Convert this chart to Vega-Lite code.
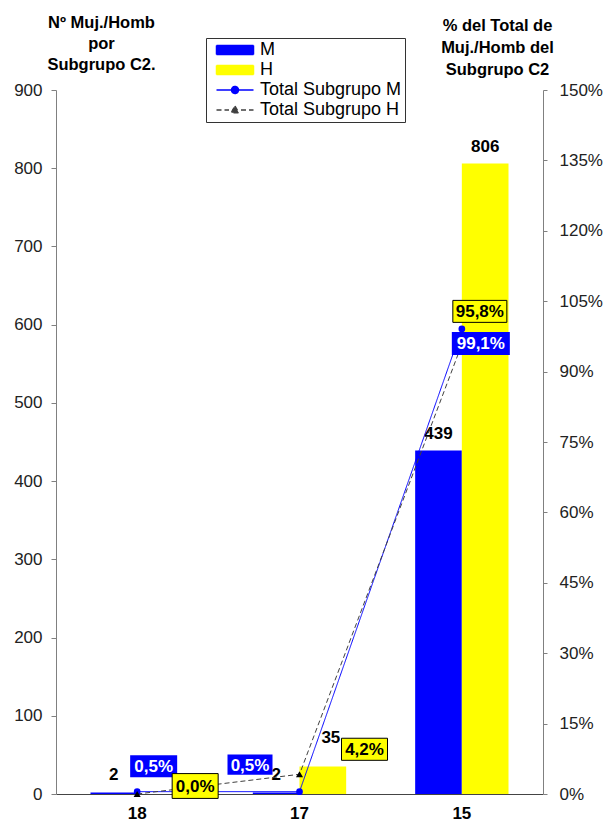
{
  "$schema": "https://vega.github.io/schema/vega-lite/v6.json",
  "autosize": {"type": "none"},
  "width": 487,
  "height": 704,
  "padding": {"left": 56, "top": 90, "right": 65, "bottom": 30},
  "background": "white",
  "datasets": {
    "bars": [
      {"cat": "18", "serie": "M", "n": 2},
      {"cat": "18", "serie": "H", "n": 0},
      {"cat": "17", "serie": "M", "n": 2},
      {"cat": "17", "serie": "H", "n": 35},
      {"cat": "15", "serie": "M", "n": 439},
      {"cat": "15", "serie": "H", "n": 806}
    ],
    "pct": [
      {"cat": "18", "serie": "Total Subgrupo M", "pct": 0.005},
      {"cat": "17", "serie": "Total Subgrupo M", "pct": 0.005},
      {"cat": "15", "serie": "Total Subgrupo M", "pct": 0.991},
      {"cat": "18", "serie": "Total Subgrupo H", "pct": 0.0},
      {"cat": "17", "serie": "Total Subgrupo H", "pct": 0.042},
      {"cat": "15", "serie": "Total Subgrupo H", "pct": 0.958}
    ]
  },
  "layer": [
    {
      "data": {"name": "bars"},
      "encoding": {
        "x": {"field": "cat", "type": "nominal", "sort": ["18", "17", "15"],
          "scale": {"paddingInner": 0.425, "paddingOuter": 0.2125},
          "axis": {"title": null, "labelAngle": 0, "labelFontWeight": "bold", "labelFontSize": 17, "labelColor": "black", "ticks": false, "domainColor": "#444", "labelPadding": 11}},
        "xOffset": {"field": "serie", "type": "nominal", "sort": ["M", "H"], "scale": {"paddingInner": 0, "paddingOuter": 0}},
        "y": {"field": "n", "type": "quantitative", "scale": {"domain": [0, 900]},
          "axis": {"values": [0, 100, 200, 300, 400, 500, 600, 700, 800, 900], "grid": false, "tickSize": 5, "tickColor": "#808080", "domainColor": "#808080", "labelFontSize": 17, "labelColor": "#222", "labelPadding": 9,
            "title": ["Nº Muj./Homb", "por", "Subgrupo C2."], "titleAngle": 0, "titleAlign": "center", "titleBaseline": "top", "titleX": 45, "titleY": -76, "titleFontSize": 16.5, "titleFontWeight": "bold", "titleColor": "black", "titleLineHeight": 21}}
      },
      "layer": [
        {"mark": {"type": "bar"},
         "encoding": {"color": {"field": "serie", "type": "nominal",
           "scale": {"domain": ["M", "H", "Total Subgrupo M", "Total Subgrupo H"], "range": ["#0000FF", "#FFFF00", "#0000FF", "#404040"]},
           "legend": {"title": null, "orient": "none", "legendX": 150, "legendY": -52}}}},
        {"transform": [{"filter": "datum.n > 0 && datum.n != 35"}],
         "mark": {"type": "text", "dy": -12, "fontSize": 17, "fontWeight": "bold", "color": "black", "baseline": "alphabetic"},
         "encoding": {"text": {"field": "n", "type": "quantitative"}}},
        {"transform": [{"filter": "datum.n == 35"}],
         "mark": {"type": "text", "dy": -24, "dx": 8, "fontSize": 17, "fontWeight": "bold", "color": "black", "baseline": "alphabetic"},
         "encoding": {"text": {"field": "n", "type": "quantitative"}}}
      ]
    },
    {
      "data": {"name": "pct"},
      "encoding": {
        "x": {"field": "cat", "type": "nominal", "sort": ["18", "17", "15"],
          "axis": {"title": null, "labelAngle": 0, "labelFontWeight": "bold", "labelFontSize": 17, "labelColor": "black", "ticks": false, "domainColor": "#444", "labelPadding": 11}},
        "y": {"field": "pct", "type": "quantitative", "scale": {"domain": [0, 1.5]},
          "axis": {"orient": "right", "values": [0, 0.15, 0.3, 0.45, 0.6, 0.75, 0.9, 1.05, 1.2, 1.35, 1.5], "format": ".0%", "grid": false, "tickSize": 4, "tickColor": "#808080", "domainColor": "#808080", "labelFontSize": 17, "labelColor": "#222", "labelPadding": 12,
            "title": ["% del Total de", "Muj./Homb del", "Subgrupo C2"], "titleAngle": 0, "titleAlign": "center", "titleBaseline": "top", "titleX": -46, "titleY": -73, "titleFontSize": 16.5, "titleFontWeight": "bold", "titleColor": "black", "titleLineHeight": 22}}
      },
      "layer": [
        {"mark": {"type": "line", "strokeWidth": 1},
         "encoding": {
           "color": {"field": "serie", "type": "nominal",
             "scale": {"domain": ["M", "H", "Total Subgrupo M", "Total Subgrupo H"], "range": ["#0000FF", "#FFFF00", "#0000FF", "#404040"]},
             "legend": {"title": null, "orient": "none", "legendX": 150, "legendY": -52}},
           "strokeDash": {"field": "serie", "type": "nominal",
             "scale": {"domain": ["M", "H", "Total Subgrupo M", "Total Subgrupo H"], "range": [[1, 0], [1, 0], [1, 0], [5, 3]]},
             "legend": {"title": null, "orient": "none", "legendX": 150, "legendY": -52}}
         }},
        {"transform": [{"filter": "datum.serie == 'Total Subgrupo M'"}],
         "mark": {"type": "point", "shape": "circle", "filled": true, "size": 45, "color": "#0000FF", "opacity": 1}},
        {"transform": [{"filter": "datum.serie == 'Total Subgrupo H'"}],
         "mark": {"type": "point", "shape": "triangle-up", "filled": true, "size": 50, "color": "#000000", "opacity": 1}},
        {"transform": [{"filter": "datum.cat == '18' && datum.serie == 'Total Subgrupo M'"}],
         "layer": [
           {"mark": {"type": "point", "shape": "M-1,-0.468H1V0.468H-1Z", "size": 2209, "filled": true, "fill": "#0000FF", "opacity": 1, "xOffset": 16.5, "yOffset": -25.5}},
           {"mark": {"type": "text", "color": "white", "fontWeight": "bold", "fontSize": 17, "baseline": "middle", "xOffset": 16.5, "yOffset": -24.5}, "encoding": {"text": {"field": "pct", "type": "quantitative", "format": ".1%"}}}
         ]},
        {"transform": [{"filter": "datum.cat == '17' && datum.serie == 'Total Subgrupo M'"}],
         "layer": [
           {"mark": {"type": "point", "shape": "M-1,-0.45H1V0.45H-1Z", "size": 2025, "filled": true, "fill": "#0000FF", "opacity": 1, "xOffset": -49.5, "yOffset": -27}},
           {"mark": {"type": "text", "color": "white", "fontWeight": "bold", "fontSize": 17, "baseline": "middle", "xOffset": -49.5, "yOffset": -26}, "encoding": {"text": {"field": "pct", "type": "quantitative", "format": ".1%"}}}
         ]},
        {"transform": [{"filter": "datum.cat == '15' && datum.serie == 'Total Subgrupo M'"}],
         "layer": [
           {"mark": {"type": "point", "shape": "M-1,-0.397H1V0.397H-1Z", "size": 3364, "filled": true, "fill": "#0000FF", "opacity": 1, "xOffset": 19, "yOffset": 14.5}},
           {"mark": {"type": "text", "color": "white", "fontWeight": "bold", "fontSize": 17, "baseline": "middle", "xOffset": 19, "yOffset": 15.5}, "encoding": {"text": {"field": "pct", "type": "quantitative", "format": ".1%"}}}
         ]},
        {"transform": [{"filter": "datum.cat == '18' && datum.serie == 'Total Subgrupo H'"}],
         "layer": [
           {"mark": {"type": "point", "shape": "M-1,-0.54H1V0.54H-1Z", "size": 2116, "filled": true, "fill": "#FFFF00", "stroke": "#000000", "strokeWidth": 1, "opacity": 1, "xOffset": 58, "yOffset": -8}},
           {"mark": {"type": "text", "color": "black", "fontWeight": "bold", "fontSize": 17, "baseline": "middle", "xOffset": 58, "yOffset": -7}, "encoding": {"text": {"field": "pct", "type": "quantitative", "format": ".1%"}}}
         ]},
        {"transform": [{"filter": "datum.cat == '17' && datum.serie == 'Total Subgrupo H'"}],
         "layer": [
           {"mark": {"type": "point", "shape": "M-1,-0.48H1V0.48H-1Z", "size": 2116, "filled": true, "fill": "#FFFF00", "stroke": "#000000", "strokeWidth": 1, "opacity": 1, "xOffset": 65, "yOffset": -25}},
           {"mark": {"type": "text", "color": "black", "fontWeight": "bold", "fontSize": 17, "baseline": "middle", "xOffset": 65, "yOffset": -24}, "encoding": {"text": {"field": "pct", "type": "quantitative", "format": ".1%"}}}
         ]},
        {"transform": [{"filter": "datum.cat == '15' && datum.serie == 'Total Subgrupo H'"}],
         "layer": [
           {"mark": {"type": "point", "shape": "M-1,-0.407H1V0.407H-1Z", "size": 2916, "filled": true, "fill": "#FFFF00", "stroke": "#000000", "strokeWidth": 1, "opacity": 1, "xOffset": 18, "yOffset": -33}},
           {"mark": {"type": "text", "color": "black", "fontWeight": "bold", "fontSize": 17, "baseline": "middle", "xOffset": 18, "yOffset": -32}, "encoding": {"text": {"field": "pct", "type": "quantitative", "format": ".1%"}}}
         ]},
        {"mark": {"type": "point", "filled": true, "opacity": 0},
         "encoding": {
           "color": {"field": "serie", "type": "nominal",
             "scale": {"domain": ["M", "H", "Total Subgrupo M", "Total Subgrupo H"], "range": ["#0000FF", "#FFFF00", "#0000FF", "#404040"]},
             "legend": {"title": null, "orient": "none", "legendX": 150, "legendY": -52}},
           "stroke": {"field": "serie", "type": "nominal",
             "scale": {"domain": ["M", "H", "Total Subgrupo M", "Total Subgrupo H"], "range": ["#0000FF", "#FFFF00", "#0000FF", "#000000"]},
             "legend": {"title": null, "orient": "none", "legendX": 150, "legendY": -52}},
           "shape": {"field": "serie", "type": "nominal",
             "scale": {"domain": ["M", "H", "Total Subgrupo M", "Total Subgrupo H"],
               "range": ["M-3.7,-0.9H3.7V0.9H-3.7Z", "M-3.7,-0.9H3.7V0.9H-3.7Z", "M-3.7,0H3.7M-0.7,0A0.7,0.7 0 1,1 0.7,0A0.7,0.7 0 1,1 -0.7,0Z", "M-3.7,0H-1.2M-0.6,0H0.6M1.2,0H3.7M0,-0.8L0.75,0.55H-0.75Z"]},
             "legend": {"title": null, "orient": "none", "legendX": 150, "legendY": -52}}
         }}
      ]
    }
  ],
  "resolve": {"scale": {"y": "independent"}},
  "config": {
    "font": "Liberation Sans",
    "view": {"stroke": null},
    "locale": {"number": {"decimal": ",", "thousands": ".", "grouping": [3], "currency": ["", " €"]}},
    "legend": {
      "orient": "none", "legendX": 150, "legendY": -52,
      "strokeColor": "#333", "fillColor": "white", "padding": 3,
      "labelFontSize": 18, "labelFont": "Liberation Sans", "labelColor": "black", "labelLimit": 400,
      "symbolSize": 100, "symbolStrokeWidth": 1.5, "symbolOpacity": 1, "symbolOffset": 17, "labelOffset": 16, "rowPadding": 2
    }
  }
}
